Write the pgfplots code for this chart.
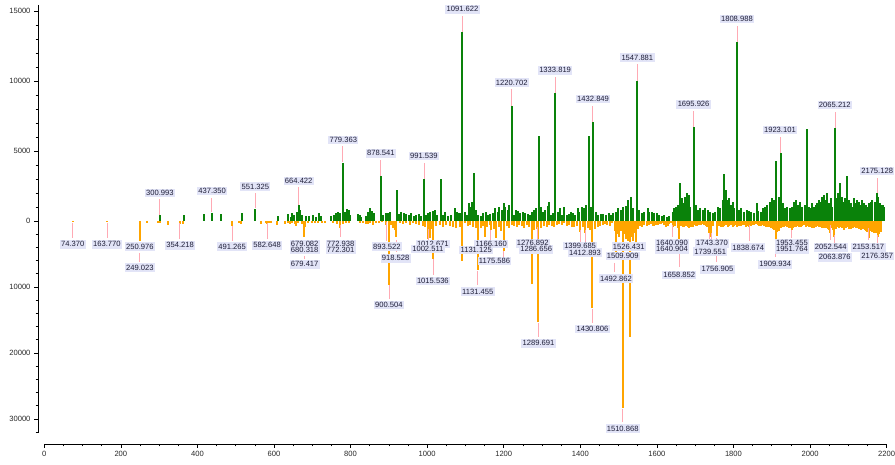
\documentclass[border=0pt]{standalone}
\usepackage{pgfplots}
\usepackage{pgfplotstable}
\pgfplotsset{compat=1.18}
\usepackage{fontspec}
\setmainfont{Liberation Sans}
\definecolor{grn}{RGB}{10,130,10}
\definecolor{org}{RGB}{255,165,0}
\definecolor{labfill}{RGB}{226,228,247}
\definecolor{labtext}{RGB}{30,30,55}
\definecolor{plink}{RGB}{255,170,180}
\definecolor{ticktext}{RGB}{40,40,40}

\pgfplotstableread{
mz i
301.0 400
363.7 400
416.7 480
437.4 560
461.8 500
516.6 550
551.3 830
611.3 357
637.4 500
643.6 310
648.1 595
652.3 430
660.1 665
664.4 1140
668.9 785
673.1 430
684.6 357
691.4 357
701.8 430
710.7 310
717.5 550
723.7 357
749.8 357
755.8 430
762.8 550
768.1 665
773.3 550
779.4 4167
785.3 665
790.5 833
795.0 785
799.4 430
819.3 500
823.7 430
828.1 310
839.3 357
845.3 665
851.6 905
856.8 738
861.0 547
878.5 3214
884.5 428
891.5 595
897.5 547
903.8 666
920.2 2214
926.2 500
932.5 666
938.5 595
945.5 500
951.5 428
958.5 547
964.6 357
971.6 428
978.4 500
984.6 357
991.5 2976
997.7 428
1001.9 595
1008.1 666
1014.9 738
1021.2 785
1026.4 428
1035.0 2976
1041.0 428
1047.3 666
1054.0 357
1062.9 428
1071.5 905
1077.5 665
1082.7 547
1087.0 600
1091.6 13480
1097.6 666
1103.6 428
1108.8 1262
1112.5 1024
1117.7 1380
1121.1 3405
1126.3 785
1132.3 428
1141.2 357
1145.4 547
1152.4 666
1158.4 428
1164.7 500
1171.5 547
1177.7 905
1184.5 666
1188.9 1024
1196.0 785
1199.4 1262
1204.6 1024
1210.6 785
1215.0 1143
1220.7 8214
1228.0 428
1232.5 785
1238.5 738
1243.7 595
1249.7 666
1256.8 595
1262.8 500
1269.0 428
1274.3 666
1280.3 785
1284.6 905
1291.5 6071
1297.7 1024
1303.7 666
1309.0 785
1315.0 1071
1319.4 1380
1323.8 428
1329.0 600
1333.8 9165
1341.1 666
1347.3 905
1352.5 428
1358.5 1024
1364.5 428
1369.8 500
1376.0 666
1382.0 547
1387.2 428
1393.2 905
1397.6 666
1403.7 1024
1410.7 905
1415.1 1143
1421.9 6093
1428.1 1024
1432.8 7093
1441.2 666
1447.2 428
1454.3 500
1460.3 500
1467.3 428
1474.1 547
1480.4 428
1486.4 547
1493.4 666
1499.4 905
1506.5 785
1512.5 1024
1519.5 1071
1525.5 1500
1532.6 1738
1538.6 905
1547.9 10022
1554.2 785
1561.2 547
1567.3 666
1575.9 905
1580.3 666
1587.3 666
1593.3 595
1599.3 547
1606.3 428
1613.4 357
1619.4 428
1625.4 310
1632.4 357
1641.1 666
1645.5 905
1649.9 1024
1654.1 1143
1660.4 2740
1665.6 1620
1669.8 1262
1674.2 1738
1678.6 1976
1682.8 1857
1687.2 1024
1695.9 6700
1702.1 1143
1706.3 785
1712.6 905
1719.3 785
1725.6 905
1732.4 785
1738.6 666
1745.4 595
1750.6 666
1760.3 1024
1765.5 905
1771.5 1500
1776.0 3330
1780.4 2214
1784.5 1500
1789.0 1620
1793.4 1143
1797.6 1380
1802.0 905
1809.0 12762
1815.0 785
1821.0 905
1828.1 666
1834.1 785
1841.1 738
1847.1 666
1854.2 547
1860.2 1262
1865.4 738
1871.7 666
1877.7 905
1882.9 1024
1888.9 1143
1895.1 1380
1900.4 1620
1904.6 1500
1911.0 4310
1917.7 1738
1923.1 4857
1929.9 1262
1935.1 905
1941.1 1024
1947.4 905
1952.6 1024
1958.6 1380
1963.0 1500
1969.0 1143
1975.0 1380
1980.2 1024
1986.5 1143
1993.3 6548
1997.8 1024
2002.2 905
2006.3 1262
2010.8 1024
2015.2 1143
2019.4 1262
2023.8 1500
2028.2 1380
2032.4 1738
2036.8 1857
2041.2 1500
2045.4 1976
2049.9 1262
2054.3 1620
2058.5 1024
2065.2 6619
2068.9 1620
2074.1 1976
2078.6 2690
2082.9 1738
2087.1 1380
2091.5 1620
2097.5 3214
2102.0 1500
2106.5 1262
2110.6 1024
2115.1 1620
2119.5 1262
2123.7 1500
2128.2 1380
2132.6 1143
2136.8 1500
2141.2 1262
2145.7 1143
2149.8 1024
2154.3 1262
2158.6 1380
2162.8 1500
2169.1 1380
2175.1 2020
2177.7 1738
2182.1 1262
2186.3 1143
2190.8 1143
2194.2 1024
}\greendata

\pgfplotstableread{
mz i
74.37 200
163.77 200
249.02 3100
250.98 2500
267.0 250
298.0 300
302.0 300
324.0 600
354.2 400
363.0 400
491.3 760
509.0 300
514.0 400
565.0 400
578.0 350
582.6 400
587.0 350
591.0 300
609.0 600
628.0 500
637.4 350
643.0 500
646.0 300
655.0 400
658.5 700
663.5 350
672.0 400
679.1 800
679.4 2500
680.3 900
690.0 300
699.0 350
707.0 250
716.0 300
725.0 350
733.0 300
754.0 300
765.0 400
772.3 700
772.9 1000
780.0 400
787.0 350
795.0 300
824.0 350
832.0 353
839.0 400
845.0 454
851.0 350
858.0 606
867.0 253
875.0 353
882.0 200
893.5 600
900.5 9700
906.0 606
911.0 1000
915.0 1300
918.5 2400
928.0 253
937.0 454
945.0 353
954.0 606
963.0 353
971.0 454
980.0 606
989.0 757
995.0 900
1002.5 2800
1008.0 2600
1012.7 1200
1015.5 5700
1024.0 757
1033.0 606
1041.0 858
1050.0 606
1059.0 757
1067.0 959
1076.0 1111
1084.6 858
1091.6 6060
1097.6 353
1106.3 757
1112.3 606
1119.3 959
1126.3 1111
1131.5 7500
1140.0 1111
1145.4 757
1151.5 2373
1156.0 959
1163.0 606
1166.2 1363
1175.0 1262
1180.3 2626
1187.0 959
1193.0 1464
1199.4 4600
1208.0 757
1215.0 1111
1222.0 606
1228.0 757
1235.0 959
1241.0 606
1248.0 757
1254.0 1111
1260.0 606
1267.0 959
1274.2 9600
1280.0 1363
1286.7 1262
1290.6 15250
1298.0 1111
1306.0 757
1312.0 959
1319.0 606
1326.0 757
1332.0 959
1338.0 606
1345.0 454
1352.0 606
1358.0 353
1364.5 757
1371.5 606
1378.5 858
1384.6 959
1391.5 757
1400.3 1616
1406.0 959
1413.3 1868
1419.6 1111
1425.7 1363
1431.6 13130
1438.0 1262
1445.0 959
1451.0 757
1458.0 606
1465.0 454
1471.0 606
1477.0 757
1484.0 353
1490.0 1500
1492.9 5000
1496.0 2000
1500.0 2500
1506.0 1500
1510.9 28380
1515.0 2000
1519.5 2800
1525.0 3000
1528.8 17530
1533.0 2500
1538.6 3000
1542.0 1800
1545.6 3600
1550.0 1200
1554.2 757
1558.0 700
1560.0 959
1566.0 606
1573.0 757
1580.0 606
1584.0 500
1589.0 757
1593.0 700
1597.7 606
1602.0 550
1606.4 454
1611.0 400
1615.1 253
1619.0 600
1623.8 858
1628.0 700
1632.5 454
1636.0 300
1641.2 960
1645.0 606
1648.2 757
1654.3 1111
1658.9 2880
1663.0 757
1667.3 959
1671.0 858
1676.0 757
1680.0 959
1684.7 1111
1689.0 858
1693.4 959
1698.0 606
1702.1 757
1706.0 757
1710.8 606
1715.0 606
1719.5 454
1724.0 555
1728.2 757
1732.0 858
1737.0 1870
1741.3 2370
1747.0 800
1756.5 2300
1759.0 606
1763.0 757
1767.0 858
1771.6 959
1776.0 757
1780.3 606
1785.0 858
1789.0 757
1793.0 606
1797.7 959
1802.0 757
1806.4 606
1810.0 858
1815.1 757
1819.0 757
1823.8 606
1828.0 606
1832.5 959
1837.0 757
1841.2 960
1845.0 757
1849.9 606
1854.0 555
1858.6 454
1863.0 606
1867.3 757
1871.0 757
1876.0 606
1880.0 757
1884.7 858
1889.0 959
1893.4 959
1898.0 1111
1902.1 1262
1906.0 1363
1909.9 2880
1914.0 1616
1917.8 1464
1920.0 1262
1923.9 1111
1927.0 959
1930.0 959
1933.0 858
1937.0 757
1941.0 959
1945.7 1111
1949.0 1111
1952.5 1360
1955.0 1111
1958.7 959
1963.0 858
1967.4 757
1972.0 858
1976.1 959
1980.0 757
1984.8 606
1989.0 858
1993.5 757
1998.0 858
2002.2 959
2006.0 1111
2010.9 1111
2015.0 959
2019.6 757
2024.0 858
2028.3 959
2032.0 1111
2037.0 1111
2041.0 1111
2045.7 1262
2049.0 1363
2052.5 1868
2056.0 1111
2058.8 1363
2063.9 2373
2068.0 1262
2071.9 959
2076.0 1111
2080.3 959
2084.0 1111
2089.0 1363
2093.0 1111
2097.7 959
2102.0 1262
2106.4 1262
2111.0 1111
2115.1 959
2119.0 1111
2123.8 1111
2128.0 1262
2132.5 1363
2137.0 1262
2141.2 1262
2144.0 1363
2147.3 1464
2150.0 1616
2153.5 2626
2158.6 1464
2163.0 1616
2167.3 1767
2171.7 1868
2176.4 2373
2180.4 1970
2184.8 1616
}\orangedata

\newcommand{\plab}[3]{\node[lab, yshift=#2pt] at (axis cs:#1,0) {#3};}
\newcommand{\plk}[3]{\draw[plink, line width=0.8pt] ([yshift=#2pt]axis cs:#1,0) -- ([yshift=#3pt]axis cs:#1,0);}

\begin{document}
\begin{tikzpicture}
\useasboundingbox (0,0) rectangle (895pt,465pt);
\begin{axis}[
  at={(38pt,21pt)}, anchor=south west,
  scale only axis, width=848.6pt, height=439pt,
  xmin=-16.4, xmax=2200, ymin=-15929, ymax=15429,
  axis x line*=bottom, axis y line*=left,
  axis line style={draw=none},
  clip mode=individual,
  tick align=outside,
  major tick length=4pt, minor tick length=2.5pt,
  tick style={black, line width=0.6pt},
  xtick={0,200,400,600,800,1000,1200,1400,1600,1800,2000,2200},
  xticklabels={0,200,400,600,800,1000,1200,1400,1600,1800,2000,2200},
  minor xtick={50,100,150,250,300,350,450,500,550,650,700,750,850,900,950,1050,1100,1150,1250,1300,1350,1450,1500,1550,1650,1700,1750,1850,1900,1950,2050,2100,2150},
  ytick={-14143,-9429,-4714,0,5000,10000,15000},
  yticklabels={30000,20000,10000,0,5000,10000,15000},
  minor ytick={-15085,-13200,-12257,-11314,-10371,-8485,-7543,-6600,-5657,-3771,-2829,-1886,-943,1000,2000,3000,4000,6000,7000,8000,9000,11000,12000,13000,14000},
  tick label style={font=\fontsize{7.6}{9}\selectfont, text=ticktext},
  /pgf/number format/assume math mode=true,
]
\addplot[ycomb, draw=grn, line width=2pt, mark=none] table[x=mz, y=i] {\greendata};
\addplot[ycomb, draw=org, line width=2pt, mark=none] table[x=mz, y expr=-\thisrow{i}*0.4714] {\orangedata};

\draw[black, line width=0.7pt] (axis cs:-16.4,15429) -- (axis cs:-16.4,-15143);
\draw[black, line width=0.7pt] (axis cs:0,-15929) -- (axis cs:2200,-15929);

\tikzset{lab/.style={fill=labfill, text=labtext, inner xsep=1.3pt, inner ysep=1.6pt,
  font=\fontsize{7.6}{8}\selectfont, text height=5.5pt, text depth=0.1pt}}

% top links
\plk{301.0}{6}{22}
\plk{437.4}{9}{23}
\plk{551.3}{13}{28}
\plk{664.4}{16}{34}
\plk{779.4}{59}{75}
\plk{878.5}{45}{61}
\plk{991.5}{42}{58}
\plk{1091.6}{189}{205}
\plk{1220.7}{115}{132}
\plk{1333.8}{128}{144}
\plk{1432.8}{99}{115}
\plk{1547.9}{140}{157}
\plk{1695.9}{94}{110}
\plk{1809.0}{179}{195}
\plk{1923.1}{68}{84}
\plk{2065.2}{93}{109}
\plk{2175.1}{28}{43}
% bottom links
\plk{74.37}{-2}{-17}
\plk{163.77}{-2}{-17}
\plk{249.7}{-32}{-41}
\plk{354.2}{-2}{-18}
\plk{491.3}{-5}{-20}
\plk{582.6}{-2}{-18}
\plk{679.8}{-35}{-38}
\plk{772.9}{-4}{-16}
\plk{893.5}{-1}{-20}
\plk{900.5}{-64}{-78}
\plk{918.5}{-19}{-31}
\plk{1002.5}{-8}{-20}
\plk{1015.5}{-38}{-54}
\plk{1131.5}{-50}{-64}
\plk{1166.2}{-9}{-21}
\plk{1199.4}{-30}{-36}
\plk{1286.7}{-6}{-24}
\plk{1290.6}{-102}{-116}
\plk{1400.3}{-9}{-21}
\plk{1413.3}{-9}{-21}
\plk{1431.6}{-88}{-102}
\plk{1489.0}{-42}{-51}
\plk{1510.9}{-188}{-201}
\plk{1641.2}{-4}{-16}
\plk{1658.9}{-20}{-46}
\plk{1737.0}{-12}{-19}
\plk{1741.3}{-12}{-19}
\plk{1756.5}{-17}{-41}
\plk{1841.2}{-4}{-20}
\plk{1909.9}{-19}{-36}
\plk{1952.5}{-9}{-17}
\plk{2052.5}{-4}{-19}
\plk{2063.9}{-14}{-29}
\plk{2153.5}{-7}{-19}
\plk{2176.4}{-14}{-28}

% top labels
\plab{301.9}{28}{300.993}
\plab{438.3}{30}{437.350}
\plab{551.5}{34.3}{551.325}
\plab{664.5}{40}{664.422}
\plab{780.9}{81}{779.363}
\plab{879.2}{67.7}{878.541}
\plab{991.4}{65}{991.539}
\plab{1092.4}{211.7}{1091.622}
\plab{1221.0}{138.3}{1220.702}
\plab{1334.2}{150.7}{1333.819}
\plab{1433.4}{122}{1432.849}
\plab{1549.0}{163.3}{1547.881}
\plab{1695.9}{116.7}{1695.926}
\plab{1809.0}{202}{1808.988}
\plab{1921.3}{91}{1923.101}
\plab{2064.8}{116}{2065.212}
\plab{2175.3}{50}{2175.128}
% bottom labels
\plab{74.1}{-23.3}{74.370}
\plab{163.6}{-23.3}{163.770}
\plab{249.7}{-25.7}{250.976}
\plab{249.7}{-46.7}{249.023}
\plab{354.8}{-24.3}{354.218}
\plab{490.5}{-25.7}{491.265}
\plab{581.8}{-24.3}{582.648}
\plab{680.2}{-23}{679.082}
\plab{680.2}{-29}{680.318}
\plab{680.2}{-43.3}{679.417}
\plab{774.1}{-23}{772.938}
\plab{774.1}{-29}{772.301}
\plab{894.9}{-25.7}{893.522}
\plab{917.6}{-37.3}{918.528}
\plab{900.1}{-84}{900.504}
\plab{1014.9}{-23}{1012.671}
\plab{1001.9}{-28}{1002.511}
\plab{1014.9}{-60}{1015.536}
\plab{1167.3}{-23}{1166.160}
\plab{1128.1}{-29}{1131.125}
\plab{1175.9}{-40}{1175.586}
\plab{1132.3}{-70.7}{1131.455}
\plab{1275.8}{-22.3}{1276.892}
\plab{1284.7}{-28.3}{1286.656}
\plab{1290.7}{-122.3}{1289.691}
\plab{1399.5}{-25}{1399.685}
\plab{1412.5}{-31.7}{1412.893}
\plab{1431.6}{-108}{1430.806}
\plab{1526.6}{-25.7}{1526.431}
\plab{1510.6}{-35}{1509.909}
\plab{1493.4}{-57.7}{1492.862}
\plab{1510.6}{-207.7}{1510.868}
\plab{1639.5}{-22.3}{1640.090}
\plab{1639.5}{-28.3}{1640.904}
\plab{1658.5}{-54}{1658.852}
\plab{1743.9}{-22.3}{1743.370}
\plab{1739.5}{-30.7}{1739.551}
\plab{1758.5}{-48.3}{1756.905}
\plab{1838.6}{-26.7}{1838.674}
\plab{1909.0}{-43.3}{1909.934}
\plab{1952.6}{-22.3}{1953.455}
\plab{1952.6}{-28.3}{1951.764}
\plab{2054.3}{-26.3}{2052.544}
\plab{2064.8}{-36.3}{2063.876}
\plab{2152.4}{-26.3}{2153.517}
\plab{2175.3}{-35}{2176.357}
\end{axis}
\end{tikzpicture}
\end{document}
